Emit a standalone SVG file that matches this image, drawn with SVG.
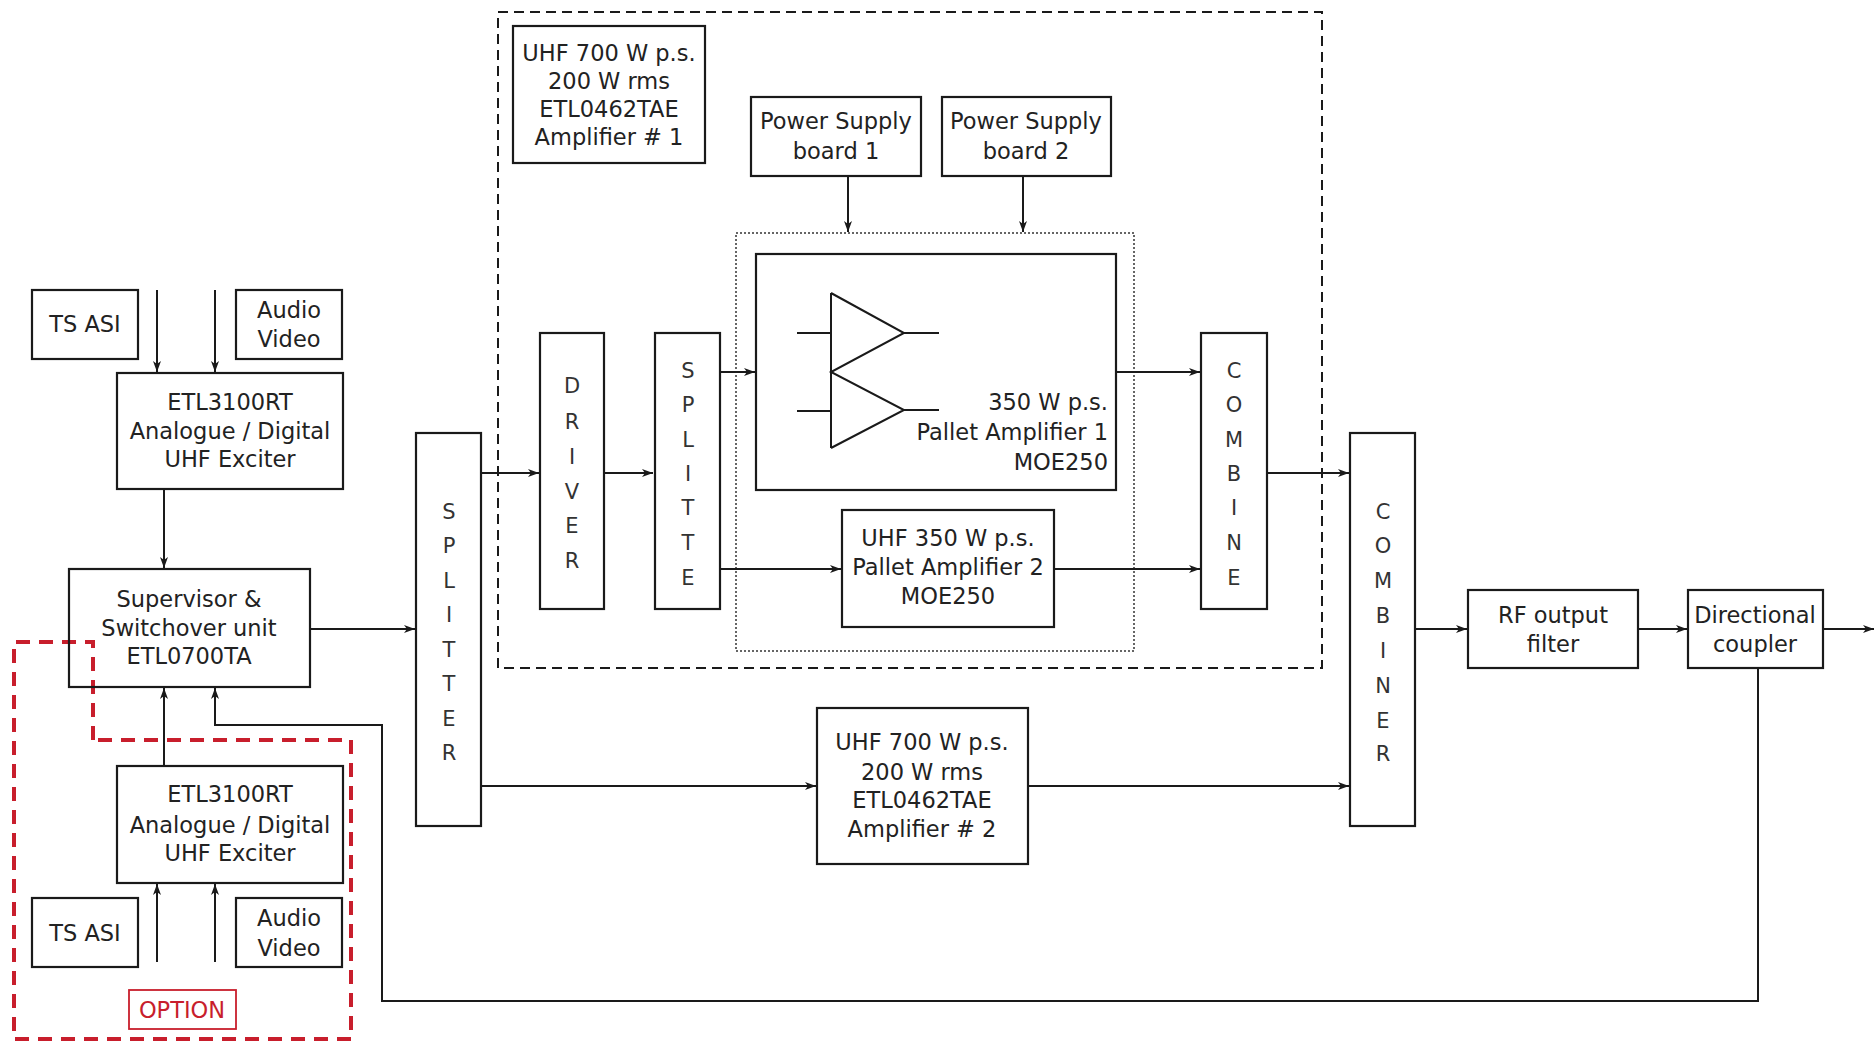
<svg xmlns="http://www.w3.org/2000/svg" width="1876" height="1043" viewBox="0 0 1876 1043">
<style>
.box{fill:none;stroke:#1a1a1a;stroke-width:2.2}
.t{font-family:"DejaVu Sans","Liberation Sans",sans-serif;font-size:22.5px;fill:#222;text-anchor:middle}
.v{font-family:"DejaVu Sans","Liberation Sans",sans-serif;font-size:21px;fill:#333;text-anchor:middle}
.c{fill:none;stroke:#1a1a1a;stroke-width:2}
</style>
<defs>
<marker id="ah" markerUnits="userSpaceOnUse" markerWidth="12" markerHeight="10" refX="11" refY="5" orient="auto">
<path d="M0,1 L11,5 L0,9 L3,5 z" fill="#1a1a1a"/>
</marker>
</defs>
<rect width="1876" height="1043" fill="#fff"/>

<!-- containers -->
<rect x="498" y="12" width="824" height="656" fill="none" stroke="#1a1a1a" stroke-width="2" stroke-dasharray="10 6"/>
<rect x="736" y="233" width="398" height="418" fill="none" stroke="#333" stroke-width="1.5" stroke-dasharray="2 2"/>
<path d="M93,740 V642 H14 V1039 H351 V740 Z" fill="none" stroke="#c81e2c" stroke-width="4" stroke-dasharray="14 9"/>

<g id="connectors">
<line class="c" x1="157" y1="290" x2="157" y2="372" marker-end="url(#ah)"/>
<line class="c" x1="215" y1="290" x2="215" y2="372" marker-end="url(#ah)"/>
<line class="c" x1="164" y1="489" x2="164" y2="568" marker-end="url(#ah)"/>
<line class="c" x1="310" y1="629" x2="415" y2="629" marker-end="url(#ah)"/>
<line class="c" x1="164" y1="766" x2="164" y2="688" marker-end="url(#ah)"/>
<line class="c" x1="157" y1="962" x2="157" y2="884" marker-end="url(#ah)"/>
<line class="c" x1="215" y1="962" x2="215" y2="884" marker-end="url(#ah)"/>
<path class="c" d="M1758,668 V1001 H382 V725 H215 V688" marker-end="url(#ah)"/>
<line class="c" x1="481" y1="473" x2="539" y2="473" marker-end="url(#ah)"/>
<line class="c" x1="604" y1="473" x2="653" y2="473" marker-end="url(#ah)"/>
<line class="c" x1="720" y1="372" x2="755" y2="372" marker-end="url(#ah)"/>
<line class="c" x1="720" y1="569" x2="841" y2="569" marker-end="url(#ah)"/>
<line class="c" x1="848" y1="176" x2="848" y2="232" marker-end="url(#ah)"/>
<line class="c" x1="1023" y1="176" x2="1023" y2="232" marker-end="url(#ah)"/>
<line class="c" x1="1116" y1="372" x2="1200" y2="372" marker-end="url(#ah)"/>
<line class="c" x1="1054" y1="569" x2="1200" y2="569" marker-end="url(#ah)"/>
<line class="c" x1="1267" y1="473" x2="1349" y2="473" marker-end="url(#ah)"/>
<line class="c" x1="481" y1="786" x2="816" y2="786" marker-end="url(#ah)"/>
<line class="c" x1="1028" y1="786" x2="1349" y2="786" marker-end="url(#ah)"/>
<line class="c" x1="1415" y1="629" x2="1467" y2="629" marker-end="url(#ah)"/>
<line class="c" x1="1638" y1="629" x2="1687" y2="629" marker-end="url(#ah)"/>
<line class="c" x1="1823" y1="629" x2="1874" y2="629" marker-end="url(#ah)"/>
</g>

<g id="tsasi-top"><rect class="box" x="32" y="290" width="106" height="69"/><text class="t" x="85" y="332">TS ASI</text></g>
<g id="av-top"><rect class="box" x="236" y="290" width="106" height="69"/><text class="t" x="289" y="318">Audio</text><text class="t" x="289" y="347">Video</text></g>
<g id="exciter-top"><rect class="box" x="117" y="373" width="226" height="116"/><text class="t" x="230" y="410">ETL3100RT</text><text class="t" x="230" y="439">Analogue / Digital</text><text class="t" x="230" y="467">UHF Exciter</text></g>
<g id="supervisor"><rect class="box" x="69" y="569" width="241" height="118"/><text class="t" x="189" y="607">Supervisor &amp;</text><text class="t" x="189" y="636">Switchover unit</text><text class="t" x="189" y="664">ETL0700TA</text></g>
<g id="exciter-bottom"><rect class="box" x="117" y="766" width="226" height="117"/><text class="t" x="230" y="802">ETL3100RT</text><text class="t" x="230" y="833">Analogue / Digital</text><text class="t" x="230" y="861">UHF Exciter</text></g>
<g id="tsasi-bottom"><rect class="box" x="32" y="898" width="106" height="69"/><text class="t" x="85" y="941">TS ASI</text></g>
<g id="av-bottom"><rect class="box" x="236" y="898" width="106" height="69"/><text class="t" x="289" y="926">Audio</text><text class="t" x="289" y="956">Video</text></g>
<g id="option"><rect x="129" y="990" width="107" height="39" fill="none" stroke="#c81e2c" stroke-width="1.8"/><text class="t" x="182" y="1018" style="fill:#c81e2c">OPTION</text></g>

<g id="splitter-main"><rect class="box" x="416" y="433" width="65" height="393"/>
<text class="v" x="449" y="519">S</text><text class="v" x="449" y="553">P</text><text class="v" x="449" y="588">L</text><text class="v" x="449" y="622">I</text><text class="v" x="449" y="657">T</text><text class="v" x="449" y="691">T</text><text class="v" x="449" y="726">E</text><text class="v" x="449" y="760">R</text></g>

<g id="amp1-label"><rect class="box" x="513" y="26" width="192" height="137"/><text class="t" x="609" y="61">UHF 700 W p.s.</text><text class="t" x="609" y="89">200 W rms</text><text class="t" x="609" y="117">ETL0462TAE</text><text class="t" x="609" y="145">Amplifier # 1</text></g>
<g id="ps1"><rect class="box" x="751" y="97" width="170" height="79"/><text class="t" x="836" y="129">Power Supply</text><text class="t" x="836" y="159">board 1</text></g>
<g id="ps2"><rect class="box" x="942" y="97" width="169" height="79"/><text class="t" x="1026" y="129">Power Supply</text><text class="t" x="1026" y="159">board 2</text></g>

<g id="driver"><rect class="box" x="540" y="333" width="64" height="276"/>
<text class="v" x="572" y="393">D</text><text class="v" x="572" y="429">R</text><text class="v" x="572" y="464">I</text><text class="v" x="572" y="499">V</text><text class="v" x="572" y="533">E</text><text class="v" x="572" y="568">R</text></g>
<g id="splitter-inner"><rect class="box" x="655" y="333" width="65" height="276"/>
<text class="v" x="688" y="378">S</text><text class="v" x="688" y="412">P</text><text class="v" x="688" y="447">L</text><text class="v" x="688" y="481">I</text><text class="v" x="688" y="515">T</text><text class="v" x="688" y="550">T</text><text class="v" x="688" y="585">E</text></g>

<g id="pallet1"><rect class="box" x="756" y="254" width="360" height="236"/>
<path class="c" d="M831,293 V448 M831,293 L904,333 L831,372 L904,410 L831,448 M797,333 H831 M797,411 H831 M904,333 H939 M904,410 H939"/>
<text class="t" x="1108" y="410" style="text-anchor:end">350 W p.s.</text><text class="t" x="1108" y="440" style="text-anchor:end">Pallet Amplifier 1</text><text class="t" x="1108" y="470" style="text-anchor:end">MOE250</text></g>
<g id="pallet2"><rect class="box" x="842" y="510" width="212" height="117"/><text class="t" x="948" y="546">UHF 350 W p.s.</text><text class="t" x="948" y="575">Pallet Amplifier 2</text><text class="t" x="948" y="604">MOE250</text></g>

<g id="combine-inner"><rect class="box" x="1201" y="333" width="66" height="276"/>
<text class="v" x="1234" y="378">C</text><text class="v" x="1234" y="412">O</text><text class="v" x="1234" y="447">M</text><text class="v" x="1234" y="481">B</text><text class="v" x="1234" y="515">I</text><text class="v" x="1234" y="550">N</text><text class="v" x="1234" y="585">E</text></g>

<g id="amp2"><rect class="box" x="817" y="708" width="211" height="156"/><text class="t" x="922" y="750">UHF 700 W p.s.</text><text class="t" x="922" y="780">200 W rms</text><text class="t" x="922" y="808">ETL0462TAE</text><text class="t" x="922" y="837">Amplifier # 2</text></g>

<g id="combiner-main"><rect class="box" x="1350" y="433" width="65" height="393"/>
<text class="v" x="1383" y="519">C</text><text class="v" x="1383" y="553">O</text><text class="v" x="1383" y="588">M</text><text class="v" x="1383" y="623">B</text><text class="v" x="1383" y="658">I</text><text class="v" x="1383" y="693">N</text><text class="v" x="1383" y="728">E</text><text class="v" x="1383" y="761">R</text></g>

<g id="rf-filter"><rect class="box" x="1468" y="590" width="170" height="78"/><text class="t" x="1553" y="623">RF output</text><text class="t" x="1553" y="652">filter</text></g>
<g id="coupler"><rect class="box" x="1688" y="590" width="135" height="78"/><text class="t" x="1755" y="623">Directional</text><text class="t" x="1755" y="652">coupler</text></g>
</svg>
